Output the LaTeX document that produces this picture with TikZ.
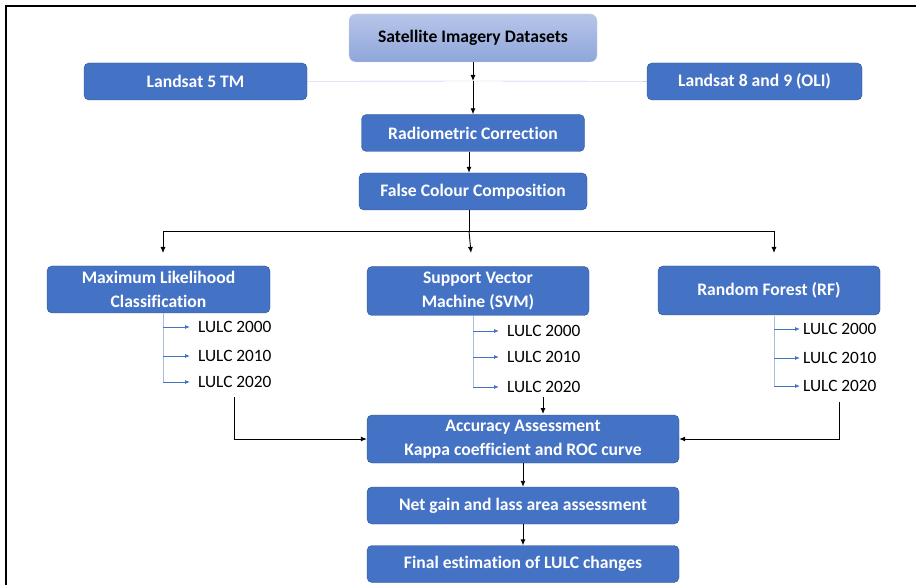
\documentclass[tikz,border=0pt]{standalone}
\usepackage{fontspec}
\setmainfont{Carlito}[Ligatures=NoCommon]
\usepackage{tikz}
\usetikzlibrary{arrows.meta,calc}
\definecolor{boxblue}{HTML}{4472C4}
\definecolor{boxline}{HTML}{2F528F}
\definecolor{topA}{HTML}{B7C5E9}
\definecolor{topB}{HTML}{8FA6DB}
\definecolor{paleline}{HTML}{A9BCE2}
\tikzset{blk/.style={rectangle,rounded corners=5pt,draw=boxline,fill=boxblue,text=white,font=\bfseries\fontsize{17.6}{23.5}\selectfont,align=center,inner sep=1pt},
top/.style={rectangle,rounded corners=7pt,draw=topB!80!black!40,top color=topA,bottom color=topB,text=black,font=\bfseries\fontsize{17.6}{21}\selectfont,inner sep=1pt},
yr/.style={anchor=west,font=\fontsize{17.3}{20}\selectfont,inner sep=0pt},
arr/.style={-{Latex[length=6pt,width=5pt]},line width=0.9pt},
barr/.style={-{Latex[length=5pt,width=4pt]},boxblue,line width=0.8pt}}
\begin{document}
\begin{tikzpicture}[x=1pt,y=-1pt]
\useasboundingbox (0,0) rectangle (916,585);
\draw[line width=1.2pt] (6,590) -- (6,6) -- (920,6);
% boxes
\node[top,minimum width=248,minimum height=48] (sat) at (473,38) {Satellite Imagery Datasets};
\node[blk,minimum width=223,minimum height=37] (l5) at (195.5,81.5) {Landsat 5 TM};
\node[blk,minimum width=215,minimum height=37] (l8) at (754.5,81.5) {Landsat 8 and 9 (OLI)};
\node[blk,minimum width=223,minimum height=37] (rad) at (473,133) {Radiometric Correction};
\node[blk,minimum width=228,minimum height=37] (fcc) at (473,191.5) {False Colour Composition};
\node[blk,minimum width=223,minimum height=47] (mlc) at (158.5,289.5) {Maximum Likelihood\\Classification};
\node[blk,minimum width=222,minimum height=49] (svm) at (478,291) {Support Vector\\Machine (SVM)};
\node[blk,minimum width=222,minimum height=49] (rf) at (769,290.5) {Random Forest (RF)};
\node[blk,minimum width=312,minimum height=48] (acc) at (523,439) {Accuracy Assessment\\Kappa coefficient and ROC curve};
\node[blk,minimum width=312,minimum height=37] (net) at (523,505.5) {Net gain and lass area assessment};
\node[blk,minimum width=312,minimum height=37] (fin) at (523,564) {Final estimation of LULC changes};
% LULC lists
\node[yr] (m1) at (198,327) {LULC 2000};
\node[yr] (m2) at (198,356) {LULC 2010};
\node[yr] (m3) at (198,382) {LULC 2020};
\node[yr] (s1) at (507,331) {LULC 2000};
\node[yr] (s2) at (507,357) {LULC 2010};
\node[yr] (s3) at (507,387) {LULC 2020};
\node[yr] (r1) at (803,329) {LULC 2000};
\node[yr] (r2) at (803,358) {LULC 2010};
\node[yr] (r3) at (803,386) {LULC 2020};
\coordinate (hub) at (473,81);
\coordinate (split) at (469,231);
\coordinate (ml) at (234,397);
\coordinate (rl) at (839,402);
% connectors
\draw[paleline] (l5) -- (hub) -- (l8);
\draw[arr] (sat) -- (hub);
\draw[arr] (hub) -- (rad);
\draw[arr] (rad.south -| split) -- (fcc.north -| split);
\draw[line width=0.9pt] (fcc.south -| split) -- (split);
\draw[line width=0.9pt] (163,231) -- (774,231);
\draw[arr] (163,231) -- (163,253);
\draw[arr] (split) -- (471,253);
\draw[arr] (774,231) -- (774,253);
\draw[paleline] (163,313) -- (163,383) (473,316) -- (473,388) (774,316) -- (774,387);
\foreach \n/\x in {m1/163,m2/163,m3/163} \draw[barr] (\x,0 |- \n.west) -- ([xshift=-8pt]\n.west);
\foreach \n/\x in {s1/473,s2/473,s3/473} \draw[barr] (\x,0 |- \n.west) -- ([xshift=-8pt]\n.west);
\foreach \n/\x in {r1/774,r2/774,r3/774} \draw[barr] (\x,0 |- \n.west) -- ([xshift=-3pt]\n.west);
\draw[arr] (ml) |- (acc.west);
\draw[arr] (rl) |- (acc.east);
\draw[arr] (543,397) -- (543,414);
\draw[arr] (acc) -- (net);
\draw[arr] (net) -- (fin);
\end{tikzpicture}
\end{document}
